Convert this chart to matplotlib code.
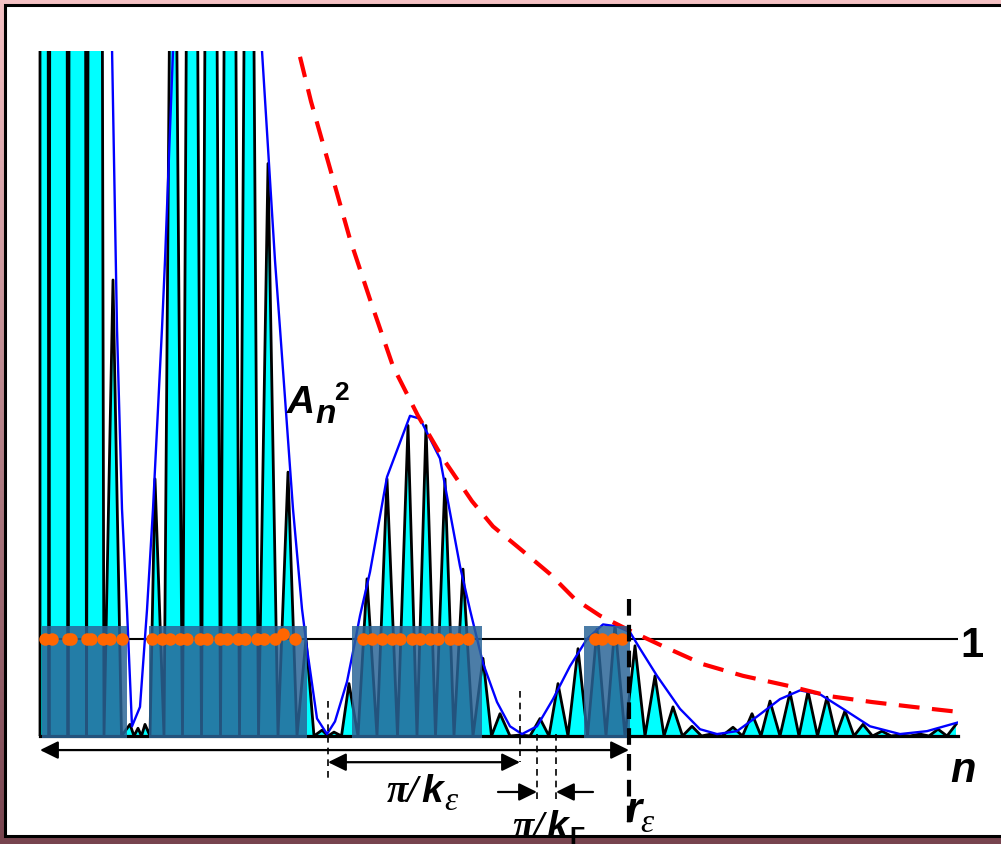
import numpy as np
import matplotlib.pyplot as plt
from matplotlib.patches import Rectangle

# spikes of A_n^2: position along n and height
peak_x = [0.0, 1.8, 3.8, 5.5, 7.3, 9.0, 9.8, 10.5,
          11.5, 13.3, 15.2, 17.1, 19.0, 20.9, 22.8, 24.8, 26.6, 28.2, 29.4,
          30.9, 32.7, 34.7, 36.8, 38.6, 40.5, 42.3, 44.3, 46.0, 48.0,
          50.0, 51.8, 53.8, 55.7, 57.5, 59.5, 61.5, 63.3, 65.2, 67.1,
          69.3, 71.2, 73.0, 75.0, 76.8, 78.7, 80.5, 82.3, 84.2, 86.0, 88.0, 89.8, 91.6]
peak_y = [80, 90, 70, 40, 4.7, 0.12, 0.08, 0.12,
          2.65, 12, 18, 20, 19, 15, 5.9, 2.72, 1.0, 0.06, 0.04,
          0.54, 1.62, 2.65, 3.2, 3.2, 2.65, 1.72, 0.8, 0.23, 0.01,
          0.18, 0.54, 0.9, 1.1, 1.15, 0.93, 0.62, 0.3, 0.1, 0.02,
          0.09, 0.23, 0.36, 0.45, 0.46, 0.4, 0.26, 0.12, 0.05, 0.01, 0.02, 0.07, 0.12]

# blue envelope
env_x = [0.0, 3.0, 5.5, 7.2, 7.7, 8.2, 8.7, 9.2, 10.0, 10.7, 11.3, 12.2, 12.5, 13.3,
         15.0, 17.0, 19.0, 20.8, 22.2, 23.5, 24.0, 25.3, 26.2, 26.7, 27.7, 28.7,
         29.5, 30.7, 31.5, 32.0, 33.0, 34.7, 37.0, 38.0, 40.0, 42.0, 43.0, 44.3,
         45.7, 47.0, 48.2, 49.7, 51.3, 53.0, 54.7, 56.3, 57.7, 59.0, 60.0, 61.7,
         64.0, 66.0, 67.7, 69.7, 71.7, 74.0, 76.0, 78.0, 80.3, 83.0, 86.0, 88.7, 91.8]
env_y = [60, 50, 30, 7.1, 4.2, 2.34, 1.3, 0.1, 0.3, 1.3, 2.34, 4.2, 4.9, 7.06,
         11.5, 13.5, 12.5, 10, 7.06, 4.9, 4.2, 2.34, 1.31, 0.9, 0.18, 0.02,
         0.15, 0.56, 0.97, 1.24, 1.69, 2.67, 3.3, 3.27, 2.86, 1.75, 1.3, 0.75,
         0.35, 0.1, 0.02, 0.1, 0.38, 0.72, 1.0, 1.15, 1.13, 1.07, 0.9, 0.62,
         0.28, 0.07, 0.02, 0.05, 0.2, 0.38, 0.47, 0.43, 0.28, 0.1, 0.02, 0.05, 0.14]

# red dashed bound
bound_x = [26.0, 27.1, 29.0, 31.0, 33.0, 35.3, 37.8, 40.3, 43.2, 45.3, 48.0, 51.0,
           53.5, 56.0, 59.3, 62.2, 66.3, 70.3, 74.7, 79.0, 83.2, 87.3, 91.7]
bound_y = [7.0, 6.54, 5.85, 5.12, 4.5, 3.81, 3.3, 2.86, 2.42, 2.16, 1.93, 1.67,
           1.41, 1.24, 1.07, 0.93, 0.74, 0.62, 0.52, 0.41, 0.35, 0.3, 0.25]

# shaded bands and orange points
band_start = [0.2, 10.9, 31.2, 54.4]
band_end = [8.7, 26.7, 44.2, 59.0]
dot_x = [0.5, 1.2, 2.8, 3.1, 4.7, 5.1, 6.3, 7.0, 8.2,
         11.2, 12.2, 13.0, 14.0, 14.7, 16.0, 16.7, 18.0, 18.7, 19.8, 20.5, 21.7, 22.4, 23.5, 24.3, 25.5,
         32.3, 33.2, 34.2, 35.2, 36.0, 37.2, 38.0, 39.0, 39.8, 41.0, 41.8, 42.8,
         55.5, 56.2, 57.3, 58.2]
dot_y = [1.0] * 23 + [1.05, 1.0] + [1.0] * 16

k_eps = (28.8, 48.0)
k_F = (49.7, 51.6)
r_eps = 58.9

fig = plt.figure(figsize=(10.01, 8.45), dpi=100)

bg = fig.add_axes([0, 0, 1, 1])
grad = np.linspace(0, 1, 256)[:, None, None]
top = np.array([0.96, 0.76, 0.77])
bot = np.array([0.47, 0.27, 0.31])
bg.imshow(top + (bot - top) * grad, aspect='auto', extent=[0, 1, 0, 1])
bg.add_patch(Rectangle((5 / 1001, 8 / 845), 1.05, 831 / 845, facecolor='white',
                       edgecolor='black', lw=2.2))
bg.set_xlim(0, 1)
bg.set_ylim(0, 1)
bg.axis('off')

ax = fig.add_axes([38 / 1001, 108 / 845, 920 / 1001, 685 / 845])
ax.set_xlim(-0.2, 91.8)
ax.set_ylim(0, 7.06)
ax.axis('off')

# zig-zag A_n^2 curve
px = np.array(peak_x)
py = np.array(peak_y)
cx = np.empty(2 * len(px) - 1)
cy = np.zeros_like(cx)
cx[0::2] = px
cx[1::2] = (px[:-1] + px[1:]) / 2
cy[0::2] = py
cx = np.concatenate([[0.0], cx])
cy = np.concatenate([[0.0], cy])
ax.fill_between(cx, 0, cy, color='#00ffff', lw=0, zorder=1)
ax.plot(cx, cy, color='black', lw=2.0, zorder=2)

ax.plot([0, 91.8], [0, 0], color='black', lw=2.3, zorder=2, clip_on=False)
ax.plot([0, 91.8], [1, 1], color='black', lw=1.5, zorder=2)

ax.plot(env_x, env_y, color='#0000ff', lw=1.7, zorder=3)
ax.plot(bound_x, bound_y, color='#ff0000', lw=3, dashes=(5, 3), zorder=3)

for a, b in zip(band_start, band_end):
    ax.add_patch(Rectangle((a, -0.02), b - a, 1.15, facecolor='#2a6496',
                           alpha=0.84, lw=0, zorder=4, clip_on=False))
ax.plot(dot_x, dot_y, 'o', color='#ff6600', ms=9, mew=0, zorder=5)

# markers below the axis
dash_kw = dict(color='black', lw=1.2, dashes=(4, 3), zorder=6, clip_on=False)
ax.plot([k_eps[0]] * 2, [0.36, -0.44], **dash_kw)
ax.plot([k_eps[1]] * 2, [0.46, -0.27], **dash_kw)
ax.plot([k_F[0]] * 2, [0.02, -0.65], **dash_kw)
ax.plot([k_F[1]] * 2, [0.02, -0.65], **dash_kw)
ax.plot([r_eps] * 2, [1.41, -0.96], color='black', lw=3, dashes=(4, 2.2), zorder=6, clip_on=False)

arr = dict(color='black', lw=1.6, shrinkA=0, shrinkB=0, mutation_scale=20)
two = '<|-|>,head_length=0.55,head_width=0.27'
one = '-|>,head_length=0.55,head_width=0.27'
ax.annotate('', xy=(0, -0.145), xytext=(r_eps, -0.145), annotation_clip=False,
            arrowprops=dict(arrowstyle=two, **arr))
ax.annotate('', xy=(k_eps[0], -0.27), xytext=(k_eps[1], -0.27), annotation_clip=False,
            arrowprops=dict(arrowstyle=two, **arr))
ax.annotate('', xy=(k_F[0], -0.577), xytext=(45.8, -0.577), annotation_clip=False,
            arrowprops=dict(arrowstyle=one, **arr))
ax.annotate('', xy=(k_F[1], -0.577), xytext=(55.3, -0.577), annotation_clip=False,
            arrowprops=dict(arrowstyle=one, **arr))

sans = dict(family='Liberation Sans', weight='bold', style='italic', va='baseline',
            ha='left', clip_on=False)
serif = dict(family='Liberation Serif', style='italic', va='baseline', ha='left', clip_on=False)

ax.text(24.7, 3.34, 'A', fontsize=28, **sans)
ax.text(27.5, 3.24, 'n', fontsize=24, **sans)
ax.text(29.4, 3.47, '2', fontsize=19, family='Liberation Sans', weight='bold', va='baseline')

ax.text(34.7, -0.67, 'π/', fontsize=28, weight='bold', **serif)
ax.text(38.1, -0.67, 'k', fontsize=28, **sans)
ax.text(40.4, -0.75, 'ε', fontsize=24, **serif)

ax.text(47.3, -1.04, 'π/', fontsize=28, weight='bold', **serif)
ax.text(50.6, -1.04, 'k', fontsize=28, **sans)
ax.text(52.9, -1.11, 'F', fontsize=18, family='Liberation Sans', weight='bold',
        va='baseline', clip_on=False)

ax.text(58.5, -0.876, 'r', fontsize=30, **sans)
ax.text(60.0, -0.98, 'ε', fontsize=24, **serif)

ax.text(91.0, -0.46, 'n', fontsize=30, **sans)
ax.text(92.0, 0.825, '1', fontsize=30, family='Liberation Sans', weight='bold',
        va='baseline', clip_on=False)

fig.savefig('out.png', dpi=100)
